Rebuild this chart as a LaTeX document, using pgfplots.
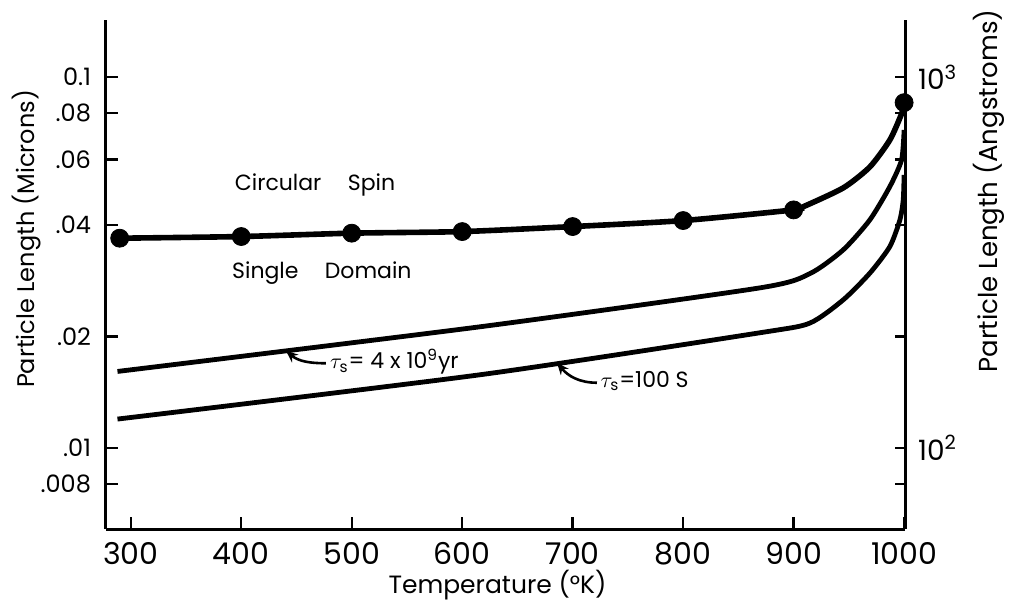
\documentclass[border=0pt]{standalone}
\usepackage{pgfplots}
\pgfplotsset{compat=1.18}
\usepackage{fontspec}
\setmainfont{Poppins}
\usetikzlibrary{arrows.meta}
\begin{document}
\begin{tikzpicture}
\useasboundingbox (-53pt,-38pt) rectangle (452pt,264.5pt);
\begin{axis}[
  at={(0,0)}, anchor=south west,
  scale only axis, width=399.5pt, height=254.5pt,
  xmin=277.6, xmax=1000.8,
  ymode=log, ymin=0.006048, ymax=0.1427,
  axis x line*=bottom, axis y line*=left,
  axis line style={line width=1.5pt,-},
  every tick/.style={line width=1.2pt,black},
  tick align=inside, major tick length=6pt,
  xtick={300,400,500,600,700,800,900,1000},
  xticklabels={300,400,500,600,700,800,900,1000},
  ytick={0.008,0.01,0.02,0.04,0.06,0.08,0.1},
  yticklabels={.008,.01,.02,.04,.06,.08,0.1},
  minor y tick num=0, minor x tick num=0,
  xticklabel style={font=\fontsize{15}{15}\selectfont, yshift=-3pt},
  yticklabel style={font=\fontsize{12}{12}\selectfont, xshift=-4pt},
  clip=false,
]
\addplot[line width=2.8pt, smooth, tension=0.4] coordinates {
 (290,0.03681) (400,0.03719) (500,0.03798) (600,0.03836) (700,0.03957) (800,0.04107) (900,0.04388)
 (908.4,0.04471) (944.9,0.05030) (969.0,0.05731) (987.1,0.06776) (998.0,0.08013) (1000,0.08542)};
\addplot[only marks, mark=*, mark size=4.5pt] coordinates {
 (290,0.03681) (400,0.03719) (500,0.03798) (600,0.03836) (700,0.03957) (800,0.04107) (900,0.04388) (1000,0.08542)};
\addplot[line width=2.4pt, smooth, tension=0.4] coordinates {
 (288,0.01609) (616,0.02123) (869.5,0.02704) (914.7,0.02954) (944.9,0.03424) (969.0,0.04125) (987.1,0.05072) (997.7,0.05986) (1000,0.07211)};
\addplot[line width=2.4pt, smooth, tension=0.4] coordinates {
 (288,0.01197) (616,0.01576) (869.5,0.02046) (914.7,0.02173) (944.9,0.02510) (969.0,0.02963) (987.1,0.03495) (996.2,0.04125) (999.2,0.04671) (1000,0.05454)};
\node[font=\fontsize{11}{11}\selectfont] at (axis cs:466.8,0.05126) {Circular\hspace{1.2em}Spin};
\node[font=\fontsize{11}{11}\selectfont] at (axis cs:473,0.02969) {Single\hspace{1.2em}Domain};
\draw[line width=1.3pt, -{Stealth[length=6pt,width=5pt]}] (axis cs:476.7,0.01693) to[out=180,in=-40] (axis cs:440.5,0.01829);
\node[anchor=west, inner sep=0pt, font=\fontsize{11}{11}\selectfont] at (axis cs:480,0.01705) {$\tau_{\mathrm{s}}$= 4 x 10\textsuperscript{9}yr};
\draw[line width=1.3pt, -{Stealth[length=6pt,width=5pt]}] (axis cs:722,0.0150) to[out=180,in=-50] (axis cs:685.8,0.01698);
\node[anchor=west, inner sep=0pt, font=\fontsize{11}{11}\selectfont] at (axis cs:725,0.01515) {$\tau_{\mathrm{s}}$=100 S};
\node[font=\fontsize{12.5}{12.5}\selectfont] at (rel axis cs:0.49,0) [yshift=-28pt] {Temperature (°K)};
\end{axis}
\begin{axis}[
  at={(0,0)}, anchor=south west,
  scale only axis, width=399.5pt, height=254.5pt,
  xmin=277.6, xmax=1000.8,
  ymode=log, ymin=60.48, ymax=1427,
  axis x line=none, axis y line*=right,
  axis line style={line width=1.5pt,-},
  every tick/.style={line width=1.2pt,black},
  tick align=inside, major tick length=5pt,
  ytick={80,100,200,400,600,800,1000},
  yticklabels={,10\textsuperscript{2},,,,,10\textsuperscript{3}},
  minor y tick num=0,
  yticklabel style={font=\fontsize{14}{14}\selectfont, xshift=3pt},
]
\end{axis}
\node[rotate=90, font=\fontsize{12}{12}\selectfont] at (-39.5pt,145pt) {Particle Length (Microns)};
\node[rotate=90, font=\fontsize{13}{13}\selectfont] at (441.5pt,169pt) {Particle Length (Angstroms)};
\end{tikzpicture}
\end{document}
